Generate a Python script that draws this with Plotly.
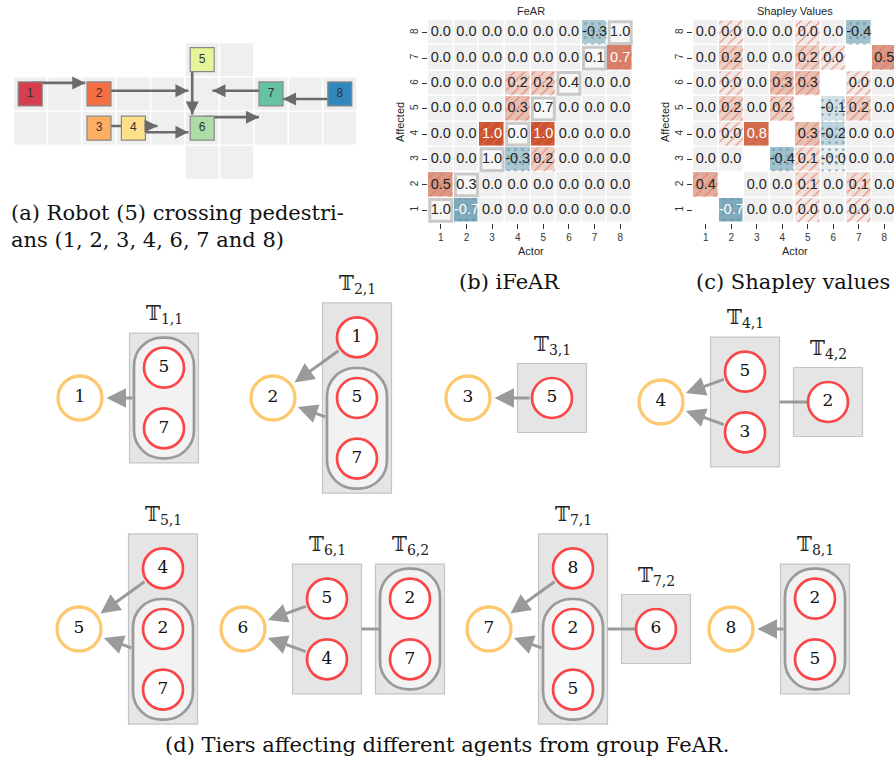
import math
import plotly.graph_objects as go

W, H = 894, 775

# ====================== DATA ======================
actors = [1, 2, 3, 4, 5, 6, 7, 8]
affected = [1, 2, 3, 4, 5, 6, 7, 8]
tick_labels = ["1", "2", "3", "4", "5", "6", "7", "8"]

# rows = affected agent 1..8, columns = actor 1..8
fear_values = [
    [1.0, -0.7, 0.0, 0.0, 0.0, 0.0, 0.0, 0.0],
    [0.5, 0.3, 0.0, 0.0, 0.0, 0.0, 0.0, 0.0],
    [0.0, 0.0, 1.0, -0.3, 0.2, 0.0, 0.0, 0.0],
    [0.0, 0.0, 1.0, 0.0, 1.0, 0.0, 0.0, 0.0],
    [0.0, 0.0, 0.0, 0.3, 0.7, 0.0, 0.0, 0.0],
    [0.0, 0.0, 0.0, 0.2, 0.2, 0.4, 0.0, 0.0],
    [0.0, 0.0, 0.0, 0.0, 0.0, 0.0, 0.1, 0.7],
    [0.0, 0.0, 0.0, 0.0, 0.0, 0.0, -0.3, 1.0],
]
shapley_values = [
    [None, -0.7, 0.0, 0.0, 0.03, 0.0, 0.03, 0.0],
    [0.4, None, 0.0, 0.0, 0.1, 0.0, 0.1, 0.0],
    [0.0, 0.0, None, -0.4, 0.1, -0.03, 0.0, 0.0],
    [0.0, 0.03, 0.8, None, 0.3, -0.2, 0.0, 0.0],
    [0.0, 0.2, 0.0, 0.2, None, -0.1, 0.2, 0.0],
    [0.0, 0.03, 0.0, 0.3, 0.3, None, 0.03, 0.0],
    [0.0, 0.2, 0.0, 0.0, 0.2, 0.03, None, 0.5],
    [0.0, 0.03, 0.0, 0.0, 0.03, 0.0, -0.4, None],
]

# scenario (a): agents on a grid (column, row)
agent_ids = [1, 2, 3, 4, 5, 6, 7, 8]
agent_col = [0, 2, 2, 3, 5, 5, 7, 9]
agent_row = [1, 1, 2, 2, 0, 2, 1, 1]
grid_rows = [[5, 6], list(range(10)), list(range(10)), [5, 6]]
# intended moves (in cells)
move_agent = [1, 2, 5, 7, 8, 3, 4, 6]
move_dx = [1.6, 2.6, 0.0, -1.7, -1.65, 1.7, 1.6, 1.65]
move_dy = [0.0, 0.0, 1.6, 0.0, 0.0, 0.0, 0.0, 0.0]

# (d) tiers affecting each agent: list of tiers, each tier a list of groups (joint groups >1)
tier_targets = [1, 2, 3, 4, 5, 6, 7, 8]
tier_sets = [
    [[[5, 7]]],
    [[[1], [5, 7]]],
    [[[5]]],
    [[[5], [3]], [[2]]],
    [[[4], [2, 7]]],
    [[[5], [4]], [[2, 7]]],
    [[[8], [2, 5]], [[6]]],
    [[[2, 5]]],
]

# ====================== STYLE / LAYOUT ======================
SANS = "Liberation Sans, Arial, sans-serif"
SERIF = "DejaVu Serif, serif"
agent_colors = ["#d53e4f", "#f46d43", "#fdae61", "#fee08b",
                "#e6f598", "#abdda4", "#66c2a5", "#3288bd"]
move_ox = [0, 0, -0.29, 0, 0, 0, 0, 0]
move_oy = [-0.32, -0.09, 0, -0.09, 0.15, -0.06, 0.12, -0.32]
target_pos = {1: (80, 398), 2: (273, 398), 3: (468, 398), 4: (661, 402),
              5: (79, 629), 6: (243, 629), 7: (489, 629), 8: (731, 629)}

cs = [[0.0, "#6b98aa"], [0.15, "#7faabb"], [0.35, "#a9c7d1"], [0.45, "#d3e1e6"],
      [0.5, "#f0f0f0"], [0.55, "#f0e0db"], [0.6, "#ebd0c8"], [0.65, "#e6bfb3"],
      [0.7, "#e0ad9f"], [0.75, "#da9886"], [0.85, "#d4806b"], [0.9, "#cf6a4d"],
      [1.0, "#c9522f"]]

fig = go.Figure()
shapes = []
annots = []


def fx(v):
    return v / W


def fy(v):
    return 1 - v / H


# ---------------- heatmaps (b) and (c) ----------------
def add_matrix(M, xa, ya, diag_box):
    z = [[(None if i == j else M[i][j]) for j in range(8)] for i in range(8)]
    fig.add_trace(go.Heatmap(x=actors, y=affected, z=z, zmin=-1, zmax=1,
                             colorscale=cs, showscale=False, xgap=1.5, ygap=1.5,
                             xaxis=xa, yaxis=ya, hoverinfo="skip"))
    g = 0.03
    bx, bb, bs, bf = [], [], [], []
    for i in range(8):
        for j in range(8):
            v = M[i][j]
            if i == j or v is None or v == 0:
                continue
            bx.append(actors[j])
            bb.append(affected[i] - 0.5 + g)
            bs.append("/" if v > 0 else ".")
            bf.append("rgba(232,110,85,0.85)" if v > 0 else "rgba(95,140,158,0.55)")
    fig.add_trace(go.Bar(x=bx, y=[1 - 2 * g] * len(bx), base=bb, width=1 - 2 * g,
                         marker=dict(color="rgba(0,0,0,0)", line=dict(width=0),
                                     pattern=dict(shape=bs, fgcolor=bf,
                                                  bgcolor="rgba(0,0,0,0)",
                                                  size=7, solidity=0.15,
                                                  fillmode="replace")),
                         xaxis=xa, yaxis=ya, hoverinfo="skip"))
    tx, ty, tt, tc = [], [], [], []
    for i in range(8):
        for j in range(8):
            v = M[i][j]
            if v is None:
                continue
            tx.append(actors[j])
            ty.append(affected[i])
            tt.append(f"{v:.1f}")
            tc.append("white" if (i != j and abs(v) >= 0.6) else "#262626")
            if i == j and diag_box:
                shapes.append(dict(type="rect", xref=xa, yref=ya, layer="below",
                                   x0=actors[j] - 0.5 + 0.07, x1=actors[j] + 0.5 - 0.07,
                                   y0=affected[i] - 0.5 + 0.07, y1=affected[i] + 0.5 - 0.07,
                                   fillcolor="#f7f7f7",
                                   line=dict(color="#c9c9c9", width=3)))
    fig.add_trace(go.Scatter(x=tx, y=ty, text=tt, mode="text",
                             textfont=dict(family=SANS, size=14.5, color=tc),
                             xaxis=xa, yaxis=ya, hoverinfo="skip"))


add_matrix(fear_values, "x2", "y2", True)
add_matrix(shapley_values, "x3", "y3", False)


def hm_axes(xdom, xrange, anchor_y, anchor_x):
    xa = dict(domain=xdom, range=xrange, tickvals=actors, ticktext=tick_labels,
              ticks="outside", ticklen=5, tickwidth=1, tickcolor="#333",
              tickfont=dict(size=10, color="#333", family=SANS),
              showgrid=False, zeroline=False, showline=False, anchor=anchor_y)
    ya = dict(domain=[fy(223), fy(20)], range=[0.5, 8.5], tickvals=affected,
              ticktext=tick_labels, tickangle=-90,
              ticks="outside", ticklen=5, tickwidth=1, tickcolor="#333",
              tickfont=dict(size=10, color="#333", family=SANS),
              showgrid=False, zeroline=False, showline=False, anchor=anchor_x)
    return xa, ya


xa2, ya2 = hm_axes([fx(428), fx(633)], [0.5, 8.5], "y2", "x2")
xa3, ya3 = hm_axes([fx(693), 1.0], [0.5, 8.5 - 3 / 25.5], "y3", "x3")

for txt, x, y, ang in [("FeAR", 530.5, 11, 0), ("Shapley Values", 795, 11, 0),
                       ("Affected", 400, 122, -90), ("Affected", 665, 122, -90),
                       ("Actor", 530.5, 251, 0), ("Actor", 795, 251, 0)]:
    annots.append(dict(text=txt, x=x, y=y, xref="x", yref="y", showarrow=False,
                       textangle=ang, font=dict(family=SANS, size=11, color="#262626")))

# ---------------- scenario (a) ----------------
for r, cols in enumerate(grid_rows):
    for c in cols:
        shapes.append(dict(type="rect", xref="x4", yref="y4", layer="below",
                           x0=c + 0.025, x1=c + 0.975, y0=r + 0.025, y1=r + 0.975,
                           fillcolor="#efefef", line=dict(width=0)))

for k, a in enumerate(move_agent):
    idx = agent_ids.index(a)
    sx = agent_col[idx] + 0.5 + move_ox[k]
    sy = agent_row[idx] + 0.5 + move_oy[k]
    ex, ey = sx + move_dx[k], sy + move_dy[k]
    fig.add_trace(go.Scatter(x=[sx, ex], y=[sy, ey], mode="lines",
                             line=dict(color="#6b6b6b", width=2.6),
                             xaxis="x4", yaxis="y4", hoverinfo="skip"))
    L = math.hypot(move_dx[k], move_dy[k])
    annots.append(dict(x=ex, y=ey, ax=ex - 0.3 * move_dx[k] / L, ay=ey - 0.3 * move_dy[k] / L,
                       xref="x4", yref="y4", axref="x4", ayref="y4", text="",
                       showarrow=True, arrowhead=2, arrowsize=1.0, arrowwidth=2.6,
                       arrowcolor="#6b6b6b"))

fig.add_trace(go.Scatter(x=[c + 0.5 for c in agent_col], y=[r + 0.5 for r in agent_row],
                         mode="markers+text", text=[str(a) for a in agent_ids],
                         textposition="middle center",
                         textfont=dict(family=SANS, size=12, color="#333"),
                         marker=dict(symbol="square", size=24, color=agent_colors,
                                     line=dict(color="#888", width=1.2)),
                         xaxis="x4", yaxis="y4", hoverinfo="skip"))

# ---------------- tiers (d) ----------------
SLOT, PAD, HALFW, FIRST, GAP = 60.6, 34.5, 34.5, 84, 83
R_NODE, PILL_HW, PILL_R = 21, 30, 28


def pill_path(x0, y0, x1, y1, r):
    k = 0.5523 * r
    return (f"M{x0},{y0 + r} C{x0},{y0 + r - k} {x0 + r - k},{y0} {x0 + r},{y0} "
            f"L{x1 - r},{y0} C{x1 - r + k},{y0} {x1},{y0 + r - k} {x1},{y0 + r} "
            f"L{x1},{y1 - r} C{x1},{y1 - r + k} {x1 - r + k},{y1} {x1 - r},{y1} "
            f"L{x0 + r},{y1} C{x0 + r - k},{y1} {x0},{y1 - r + k} {x0},{y1 - r} Z")


red_x, red_y, red_t = [], [], []
tgt_x, tgt_y, tgt_t = [], [], []
for tgt, tiers in zip(tier_targets, tier_sets):
    tx, ty = target_pos[tgt]
    tgt_x.append(tx)
    tgt_y.append(ty)
    tgt_t.append(str(tgt))
    prev_right = None
    for j, tier in enumerate(tiers):
        n = sum(len(gr) for gr in tier)
        cx = tx + FIRST + GAP * j
        h = 2 * PAD + SLOT * (n - 1)
        top = ty - h / 2
        shapes.append(dict(type="rect", xref="x", yref="y", layer="below",
                           x0=cx - HALFW, x1=cx + HALFW, y0=top, y1=top + h,
                           fillcolor="#e5e5e5", line=dict(color="#c4c4c4", width=1.2)))
        annots.append(dict(text=f"𝕋<sub>{tgt},{j + 1}</sub>", x=cx, y=top - 19,
                           xref="x", yref="y", showarrow=False,
                           font=dict(family=SERIF, size=20, color="#222")))
        slot = 0
        for gi, gr in enumerate(tier):
            ys = [top + PAD + SLOT * (slot + q) for q in range(len(gr))]
            slot += len(gr)
            gy = sum(ys) / len(ys)
            if len(gr) > 1:
                shapes.append(dict(type="path", xref="x", yref="y", layer="below",
                                   path=pill_path(cx - PILL_HW, ys[0] - PILL_HW,
                                                  cx + PILL_HW, ys[-1] + PILL_HW, PILL_R),
                                   fillcolor="#f2f2f2",
                                   line=dict(color="#9a9a9a", width=2.7)))
            for a, y in zip(gr, ys):
                red_x.append(cx)
                red_y.append(y)
                red_t.append(str(a))
            if j == 0:
                dx, dy = tx - cx, ty - gy
                L = math.hypot(dx, dy)
                st = R_NODE if len(gr) == 1 else PILL_HW * L / abs(dx)
                annots.append(dict(x=tx, y=ty, ax=cx, ay=gy, xref="x", yref="y",
                                   axref="x", ayref="y", text="", showarrow=True,
                                   arrowhead=2, arrowsize=1.3, arrowwidth=3,
                                   arrowcolor="#9a9a9a", standoff=26.5,
                                   startstandoff=st))
            elif gi == 0:
                ex = cx - (R_NODE if len(gr) == 1 else PILL_HW)
                shapes.append(dict(type="line", xref="x", yref="y", layer="below",
                                   x0=prev_right, x1=ex, y0=ty, y1=ty,
                                   line=dict(color="#9a9a9a", width=3)))
        prev_right = cx + HALFW

fig.add_trace(go.Scatter(x=red_x, y=red_y, text=red_t, mode="markers+text",
                         textposition="middle center",
                         textfont=dict(family=SERIF, size=17, color="#111"),
                         marker=dict(size=40, color="white",
                                     line=dict(color="#fa4646", width=2.7)),
                         xaxis="x", yaxis="y", hoverinfo="skip"))
fig.add_trace(go.Scatter(x=tgt_x, y=tgt_y, text=tgt_t, mode="markers+text",
                         textposition="middle center",
                         textfont=dict(family=SERIF, size=17, color="#111"),
                         marker=dict(size=44, color="white",
                                     line=dict(color="#fdc870", width=3.3)),
                         xaxis="x", yaxis="y", hoverinfo="skip"))

# ---------------- captions ----------------
for txt, x, y, anchor in [("(a) Robot (5) crossing pedestri-", 9, 213, "left"),
                          ("ans (1, 2, 3, 4, 6, 7 and 8)", 9, 240, "left"),
                          ("(b) iFeAR", 509, 282, "center"),
                          ("(c) Shapley values", 892, 282, "right"),
                          ("(d) Tiers affecting different agents from group FeAR.", 447, 745, "center")]:
    annots.append(dict(text=txt, x=x, y=y, xref="x", yref="y", showarrow=False,
                       xanchor=anchor, font=dict(family=SERIF, size=21, color="#111")))

fig.update_layout(
    width=W, height=H, margin=dict(l=0, r=0, t=0, b=0),
    paper_bgcolor="white", plot_bgcolor="white", showlegend=False, barmode="overlay",
    xaxis=dict(domain=[0, 1], range=[0, W], visible=False, fixedrange=True),
    yaxis=dict(domain=[0, 1], range=[H, 0], visible=False, fixedrange=True),
    xaxis2=xa2, yaxis2=ya2, xaxis3=xa3, yaxis3=ya3,
    xaxis4=dict(domain=[fx(13), fx(357)], range=[0, 10], visible=False, anchor="y4"),
    yaxis4=dict(domain=[fy(179.5), fy(42.5)], range=[4, 0], visible=False, anchor="x4"),
    shapes=shapes, annotations=annots,
)

fig.write_html("out.html", config={"displayModeBar": False},
               post_script="document.body.style.margin='0';document.body.style.overflow='hidden';")
